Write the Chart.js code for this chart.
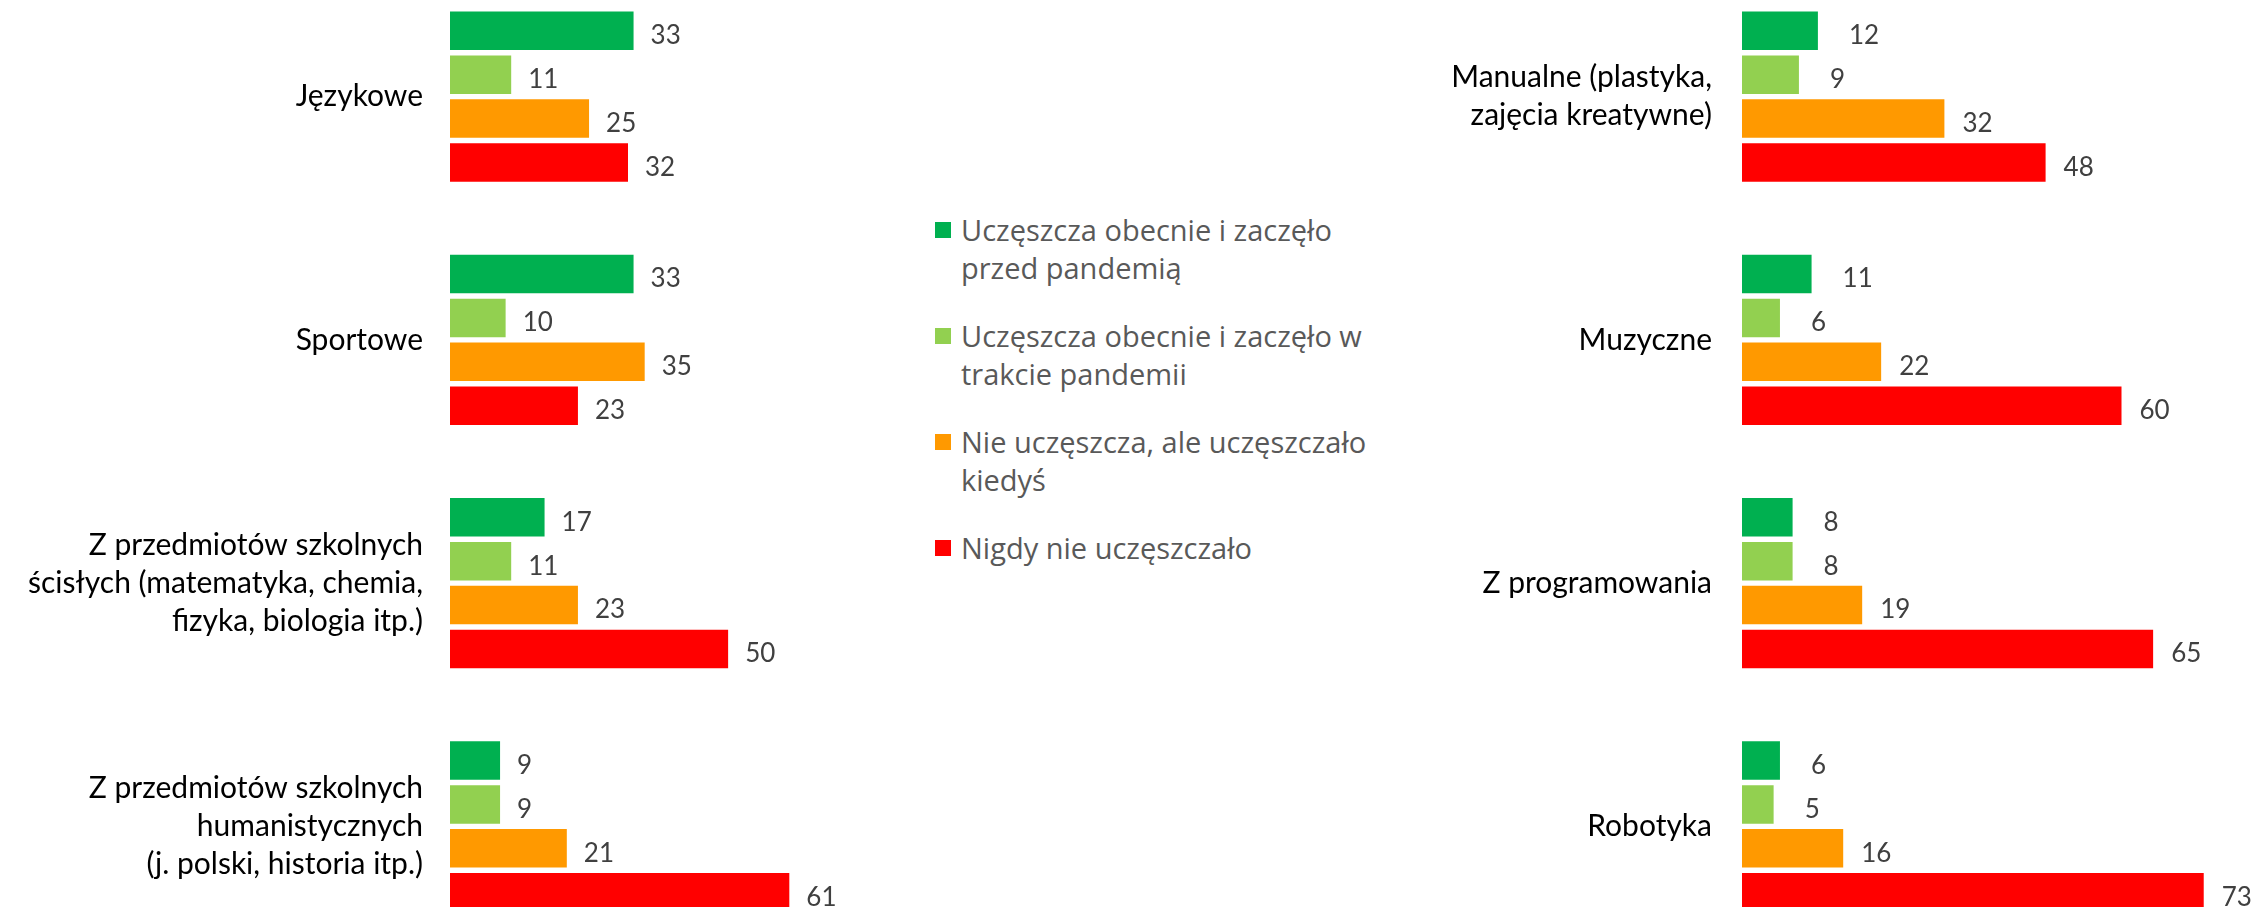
<!DOCTYPE html>
<html>
<head>
<meta charset="utf-8">
<script src="https://cdn.jsdelivr.net/npm/chart.js@4.4.1/dist/chart.umd.min.js"></script>
<style>
  html, body { margin: 0; padding: 0; background: #fff; overflow: hidden; }
  body { width: 2257px; height: 907px; position: relative; }
  .box { position: absolute; top: -25px; height: 973px; }
  #leftBox { left: 0; width: 905px; }
  #rightBox { left: 1292px; width: 965px; }
  #legend { position: absolute; left: 935px; top: 211px; font-family: "Open Sans", Lato, sans-serif; font-size: 29px; color: #595959; line-height: 38px; }
  .item { position: relative; padding-left: 26px; margin-bottom: 30px; white-space: pre-line; }
  .item .sw { position: absolute; left: 0; top: 11px; width: 16px; height: 16px; }
</style>
</head>
<body>
<div class="box" id="leftBox"><canvas id="leftChart"></canvas></div>
<div id="legend"></div>
<div class="box" id="rightBox"><canvas id="rightChart"></canvas></div>
<script>
// serie (legenda)
const seriesNames = [
  'Uczęszcza obecnie i zaczęło\nprzed pandemią',
  'Uczęszcza obecnie i zaczęło w\ntrakcie pandemii',
  'Nie uczęszcza, ale uczęszczało\nkiedyś',
  'Nigdy nie uczęszczało'
];
const seriesColors = ['#00B050', '#92D050', '#FF9900', '#FF0000'];

// lewy wykres
const leftCategories = [
  ['Językowe'],
  ['Sportowe'],
  ['Z przedmiotów szkolnych', 'ścisłych (matematyka, chemia,', 'fizyka, biologia itp.)'],
  ['Z przedmiotów szkolnych', 'humanistycznych', '(j. polski, historia itp.)']
];
const leftBefore = [33, 33, 17, 9];
const leftDuring = [11, 10, 11, 9];
const leftFormer = [25, 35, 23, 21];
const leftNever = [32, 23, 50, 61];

// prawy wykres
const rightCategories = [
  ['Manualne (plastyka,', 'zajęcia kreatywne)'],
  ['Muzyczne'],
  ['Z programowania'],
  ['Robotyka']
];
const rightBefore = [12, 11, 8, 6];
const rightDuring = [9, 6, 8, 5];
const rightFormer = [32, 22, 19, 16];
const rightNever = [48, 60, 65, 73];

const FONT = 'Lato, "Open Sans", sans-serif';

// etykiety z wartościami obok słupków
const valueLabels = {
  id: 'valueLabels',
  afterDatasetsDraw(chart, args, opts) {
    const ctx = chart.ctx;
    ctx.save();
    ctx.font = '26px ' + FONT;
    ctx.fillStyle = '#404040';
    ctx.textBaseline = 'middle';
    ctx.textAlign = 'left';
    chart.data.datasets.forEach((ds, i) => {
      const gap = opts.gaps[i];
      chart.getDatasetMeta(i).data.forEach((bar, j) => {
        ctx.fillText(String(ds.data[j]), bar.x + gap, bar.y + 5);
      });
    });
    ctx.restore();
  }
};

function makeChart(id, categories, values, axisPad, rightPad, gaps) {
  const ctx = document.getElementById(id).getContext('2d');
  return new Chart(ctx, {
    type: 'bar',
    data: {
      labels: categories,
      datasets: values.map((v, i) => ({
        label: seriesNames[i],
        data: v,
        backgroundColor: seriesColors[i],
        borderWidth: 0,
        categoryPercentage: 0.7217,
        barPercentage: 0.877
      }))
    },
    options: {
      indexAxis: 'y',
      responsive: true,
      maintainAspectRatio: false,
      animation: false,
      layout: { padding: { left: 0, top: 0, bottom: 0, right: rightPad } },
      plugins: {
        legend: { display: false },
        tooltip: { enabled: false },
        valueLabels: { gaps: gaps }
      },
      scales: {
        x: { display: false, min: 0, max: 80 },
        y: {
          grid: { display: false, drawTicks: false },
          border: { display: false },
          ticks: {
            color: '#000',
            padding: axisPad,
            autoSkip: false,
            font: { family: FONT, size: 30, lineHeight: 1.27 }
          },
          afterFit(scale) {
            // stała szerokość osi, bez dodatkowego marginesu od etykiet
            scale.width = 450;
            scale.paddingTop = 0;
            scale.paddingBottom = 0;
          }
        }
      }
    },
    plugins: [valueLabels]
  });
}

makeChart('leftChart', leftCategories, [leftBefore, leftDuring, leftFormer, leftNever], 27, 10, [17, 17, 17, 17]);
makeChart('rightChart', rightCategories, [rightBefore, rightDuring, rightFormer, rightNever], 30, 9, [31, 31, 18, 18]);

// legenda w HTML
const legend = document.getElementById('legend');
seriesNames.forEach((name, i) => {
  const item = document.createElement('div');
  item.className = 'item';
  const sw = document.createElement('span');
  sw.className = 'sw';
  sw.style.background = seriesColors[i];
  item.appendChild(sw);
  item.appendChild(document.createTextNode(name));
  legend.appendChild(item);
});
</script>
</body>
</html>
